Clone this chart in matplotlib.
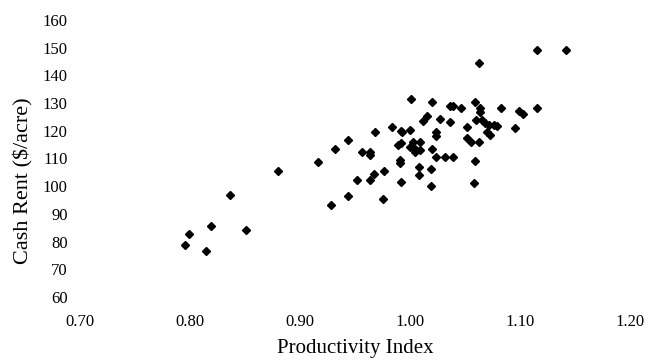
import numpy as np
import matplotlib
matplotlib.use('Agg')
import matplotlib.pyplot as plt

# productivity index vs cash rent
prod_index = [0.795, 0.799, 0.815, 0.819, 0.836, 0.851, 0.880, 0.916, 0.928, 0.932,
              0.944, 0.944, 0.952, 0.956, 0.964, 0.964, 0.964, 0.967, 0.968, 0.975,
              0.976, 0.984, 0.989, 0.992, 0.991, 0.991, 0.992, 0.992, 0.993, 1.000,
              1.001, 1.000, 1.003, 1.004, 1.005, 1.009, 1.009, 1.008, 1.008, 1.012,
              1.015, 1.019, 1.019, 1.020, 1.020, 1.024, 1.024, 1.024, 1.027, 1.032,
              1.036, 1.039, 1.036, 1.039, 1.046, 1.052, 1.052, 1.055, 1.058, 1.059,
              1.059, 1.063, 1.063, 1.064, 1.064, 1.060, 1.065, 1.068, 1.072, 1.076,
              1.079, 1.070, 1.073, 1.083, 1.095, 1.099, 1.103, 1.115, 1.115, 1.142]
cash_rent = [78.7, 82.6, 76.5, 85.5, 96.7, 84.3, 105.6, 108.6, 93.2, 113.5,
             116.5, 96.5, 102.2, 112.3, 112.3, 111.2, 102.2, 104.3, 119.4, 95.2,
             105.6, 121.5, 114.9, 115.5, 109.5, 108.3, 101.4, 119.9, 119.4, 120.3,
             131.5, 114.3, 116.1, 113.7, 112.5, 116.1, 113.1, 107.1, 104.0, 123.7,
             125.4, 106.2, 100.2, 130.3, 113.4, 119.4, 118.2, 110.4, 124.3, 110.4,
             129.1, 129.1, 123.3, 110.4, 128.3, 121.3, 117.3, 116.1, 101.3, 130.3,
             109.1, 116.1, 144.3, 128.3, 126.7, 123.9, 123.9, 122.7, 122.1, 122.1,
             121.9, 119.7, 118.5, 128.3, 120.9, 127.1, 126.1, 128.3, 149.2, 149.2]

x_ticks = [0.70, 0.80, 0.90, 1.00, 1.10, 1.20]
y_ticks = [60, 70, 80, 90, 100, 110, 120, 130, 140, 150, 160]

plt.rcParams['font.family'] = ['Liberation Serif', 'DejaVu Serif']

fig = plt.figure(figsize=(6.67, 3.62), dpi=100)
ax = fig.add_axes([80 / 667, 65 / 362, 550 / 667, 277 / 362])
ax.plot(prod_index, cash_rent, linestyle='none', marker='D', markersize=3.6,
        color='black')

ax.set_xlim(0.70, 1.20)
ax.set_ylim(60, 160)
ax.set_xticks(x_ticks)
ax.set_xticklabels(['{0:.2f}'.format(v) for v in x_ticks])
ax.set_yticks(y_ticks)
ax.tick_params(axis='x', length=0, pad=12, labelsize=12)
ax.tick_params(axis='y', length=0, pad=9, labelsize=12)
for s in ax.spines.values():
    s.set_visible(False)

ax.set_xlabel('Productivity Index', fontsize=15, labelpad=7)
ax.set_ylabel('Cash Rent ($/acre)', fontsize=16)
ax.yaxis.set_label_coords(-0.085, 0.42)

fig.savefig('out.png', dpi=100)
